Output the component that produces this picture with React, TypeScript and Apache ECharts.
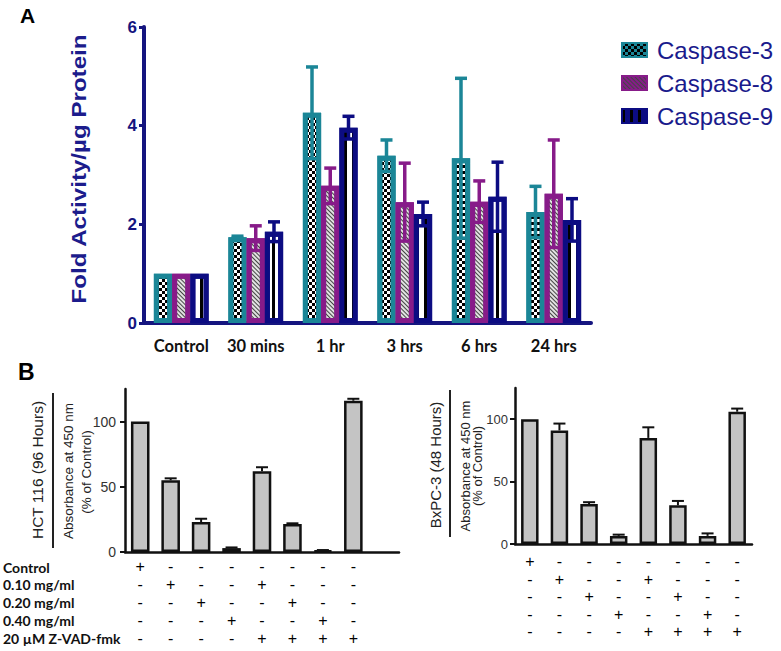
import React, { useEffect, useRef } from 'react';
import * as echarts from 'echarts';

// ---------- Panel A data ----------
const timePoints = ['Control', '30 mins', '1 hr', '3 hrs', '6 hrs', '24 hrs'];
const caspase3 = [1.0, 1.74, 4.26, 3.39, 3.34, 2.25];
const caspase3Err = [0, 0.02, 0.93, 0.32, 1.62, 0.52];
const caspase8 = [1.0, 1.72, 2.78, 2.45, 2.46, 2.62];
const caspase8Err = [0, 0.25, 0.36, 0.79, 0.42, 1.09];
const caspase9 = [1.0, 1.85, 3.96, 2.21, 2.56, 2.09];
const caspase9Err = [0, 0.2, 0.23, 0.24, 0.7, 0.43];
const seriesNamesA = ['Caspase-3', 'Caspase-8', 'Caspase-9'];
const ticksA = [0, 2, 4, 6];

// ---------- Panel B data ----------
const treatmentCols = ['1', '2', '3', '4', '5', '6', '7', '8'];
const hctValues = [100, 55, 23, 3, 62, 21.5, 1, 116];
const hctErr = [0, 1.5, 2.5, 0.5, 3, 0.5, 0.5, 1.5];
const bxpcValues = [100, 91, 32, 6.5, 85, 31, 6.5, 106];
const bxpcErr = [0, 5.5, 1.5, 1, 8.5, 3.5, 2, 2.5];
const ticksB = [0, 50, 100];

const rowLabels = ['Control', '0.10 mg/ml', '0.20 mg/ml', '0.40 mg/ml', '20 µM Z-VAD-fmk'];
const rowControl = ['+', '-', '-', '-', '-', '-', '-', '-'];
const row010 = ['-', '+', '-', '-', '+', '-', '-', '-'];
const row020 = ['-', '-', '+', '-', '-', '+', '-', '-'];
const row040 = ['-', '-', '-', '+', '-', '-', '+', '-'];
const rowZvad = ['-', '-', '-', '-', '+', '+', '+', '+'];
const treatmentRows = [rowControl, row010, row020, row040, rowZvad];

const C3 = '#1b8697';
const C8 = '#871b89';
const C9 = '#0c0c82';
const NAVY = '#15157f';
const ARIAL = '"Liberation Sans", Arial, sans-serif';
const CAL = 'Lato, "Open Sans", sans-serif';

const decalC3 = {
  symbol: 'rect', symbolSize: 1, color: '#000',
  dashArrayX: [[3, 3], [0, 3, 3, 0]], dashArrayY: [3, 0], rotation: 0,
};
const decalC8 = {
  symbol: 'rect', symbolSize: 1, color: '#444',
  dashArrayX: [1, 0], dashArrayY: [1, 2], rotation: Math.PI / 4,
};
const decalC9 = {
  symbol: 'rect', symbolSize: 1, color: '#000',
  dashArrayX: [3, 5], dashArrayY: [1, 0], rotation: 0,
};

function errSeries(name: string, xi: number, yi: number, vals: number[], errs: number[],
  color: string, offset: number, capHalf: number, lw: number, symmetric: boolean) {
  return {
    type: 'custom', name, xAxisIndex: xi, yAxisIndex: yi, z: 10, silent: true,
    encode: { x: 0, y: 1 },
    data: vals.map((v, i) => [i, v, errs[i]]),
    renderItem: (params: any, api: any) => {
      const idx = api.value(0);
      const v = api.value(1);
      const e = api.value(2);
      if (!e) return null;
      const catW = api.size([1, 0])[0];
      const base = api.coord([idx, v]);
      const x = base[0] + catW * offset;
      const top = api.coord([idx, v + e])[1];
      const bot = symmetric ? api.coord([idx, v - e])[1] : base[1];
      const st = { stroke: color, lineWidth: lw, fill: 'none' };
      const children: any[] = [
        { type: 'line', shape: { x1: x, y1: bot, x2: x, y2: top }, style: st },
        { type: 'line', shape: { x1: x - capHalf, y1: top, x2: x + capHalf, y2: top }, style: st },
      ];
      if (symmetric) {
        children.push({ type: 'line', shape: { x1: x - capHalf, y1: bot, x2: x + capHalf, y2: bot }, style: st });
      }
      return { type: 'group', children };
    },
  };
}

function signLabel(i: number) {
  if (i >= treatmentCols.length) return '';
  return treatmentRows.map((r) => r[i]).join('\n');
}

const barBW = (xi: number, yi: number, vals: number[], width: string) => ({
  type: 'bar', xAxisIndex: xi, yAxisIndex: yi, data: vals, barWidth: width,
  itemStyle: { color: '#c4c4c4', borderColor: '#111', borderWidth: 2.5 },
});

const option: any = {
  animation: false,
  backgroundColor: '#fff',
  legend: {
    data: [
      { name: seriesNamesA[0], itemStyle: { color: C3, borderColor: C3 } },
      { name: seriesNamesA[1], itemStyle: { color: C8, borderColor: C8 } },
      { name: seriesNamesA[2], itemStyle: { color: C9, borderColor: C9 } },
    ],
    orient: 'vertical', left: 616, top: 33,
    icon: 'rect', itemWidth: 25, itemHeight: 14, itemGap: 9,
    textStyle: { fontSize: 24, color: '#1a1a8c', fontFamily: ARIAL, padding: [0, 0, 0, 5] },
  },
  grid: [
    { left: 144, right: 190, top: 27, bottom: 328 },
    { left: 125, right: 382, top: 389, bottom: 99 },
    { left: 515, right: 29, top: 388, bottom: 107 },
  ],
  xAxis: [
    {
      type: 'category', gridIndex: 0, data: timePoints,
      axisLine: { lineStyle: { color: NAVY, width: 4 } },
      axisTick: { alignWithLabel: true, length: 6, lineStyle: { color: NAVY, width: 3 } },
      axisLabel: { interval: 0, fontFamily: CAL, fontWeight: 'bold', fontSize: 16.5, color: '#111', margin: 14 },
    },
    {
      type: 'category', gridIndex: 1, data: [...treatmentCols, ''],
      axisLine: { lineStyle: { color: '#111', width: 2.5 } },
      axisTick: { show: false },
      axisLabel: {
        interval: 0, fontFamily: ARIAL, fontSize: 16, color: '#000', lineHeight: 17.8, margin: 6,
        formatter: (_v: string, i: number) => signLabel(i),
      },
    },
    {
      type: 'category', gridIndex: 2, data: treatmentCols,
      axisLine: { lineStyle: { color: '#111', width: 2.5 } },
      axisTick: { show: false },
      axisLabel: {
        interval: 0, fontFamily: ARIAL, fontSize: 16, color: '#000', lineHeight: 17.5, margin: 9,
        formatter: (_v: string, i: number) => signLabel(i),
      },
    },
  ],
  yAxis: [
    {
      type: 'value', gridIndex: 0, min: 0, max: 6, interval: 2,
      axisLine: { show: true, lineStyle: { color: NAVY, width: 4 } },
      axisTick: { show: true, length: 5, lineStyle: { color: NAVY, width: 3 }, customValues: ticksA },
      axisLabel: { fontFamily: ARIAL, fontWeight: 'bold', fontSize: 17, color: NAVY, margin: 7, customValues: ticksA },
      splitLine: { show: false },
    },
    {
      type: 'value', gridIndex: 1, min: 0, max: 125, interval: 50,
      axisLine: { show: true, lineStyle: { color: '#111', width: 2.5 } },
      axisTick: { show: true, length: 5, lineStyle: { color: '#111', width: 2 }, customValues: ticksB },
      axisLabel: { fontFamily: ARIAL, fontSize: 14, color: '#333', margin: 9, customValues: ticksB },
      splitLine: { show: false },
    },
    {
      type: 'value', gridIndex: 2, min: 0, max: 125, interval: 50,
      axisLine: { show: true, lineStyle: { color: '#111', width: 2.5 } },
      axisTick: { show: true, length: 5, lineStyle: { color: '#111', width: 2 }, customValues: ticksB },
      axisLabel: { fontFamily: ARIAL, fontSize: 13, color: '#333', margin: 7, customValues: ticksB },
      splitLine: { show: false },
    },
  ],
  series: [
    {
      type: 'bar', name: seriesNamesA[0], xAxisIndex: 0, yAxisIndex: 0, data: caspase3,
      barWidth: '24.5%', barGap: '0%',
      itemStyle: { color: '#ffffff', borderColor: C3, borderWidth: 5, decal: decalC3 },
    },
    {
      type: 'bar', name: seriesNamesA[1], xAxisIndex: 0, yAxisIndex: 0, data: caspase8,
      barWidth: '24.5%', barGap: '0%',
      itemStyle: { color: '#e2e2e2', borderColor: C8, borderWidth: 5, decal: decalC8 },
    },
    {
      type: 'bar', name: seriesNamesA[2], xAxisIndex: 0, yAxisIndex: 0, data: caspase9,
      barWidth: '24.5%', barGap: '0%',
      itemStyle: { color: '#ffffff', borderColor: C9, borderWidth: 5, decal: decalC9 },
    },
    errSeries('e3', 0, 0, caspase3, caspase3Err, C3, -0.245, 6, 3.5, true),
    errSeries('e8', 0, 0, caspase8, caspase8Err, C8, 0, 6, 3.5, true),
    errSeries('e9', 0, 0, caspase9, caspase9Err, C9, 0.245, 6, 3.5, true),
    barBW(1, 1, hctValues, '61%'),
    errSeries('eh', 1, 1, hctValues, hctErr, '#111', 0, 6, 2, false),
    barBW(2, 2, bxpcValues, '59%'),
    errSeries('eb', 2, 2, bxpcValues, bxpcErr, '#111', 0, 6, 2, false),
  ],
  graphic: [
    { type: 'text', left: 20, top: 5, style: { text: 'A', font: `bold 21px ${ARIAL}`, fill: '#000' } },
    { type: 'text', left: 18, top: 360, style: { text: 'B', font: `bold 23px ${ARIAL}`, fill: '#000' } },
    {
      type: 'text', x: 79, y: 169, rotation: Math.PI / 2, scaleX: 1.15,
      style: { text: 'Fold Activity/µg Protein', font: `bold 21px ${ARIAL}`, fill: '#1c1c8c', align: 'center', verticalAlign: 'middle' },
    },
    // B left axis titles
    {
      type: 'text', x: 37, y: 470, rotation: Math.PI / 2,
      style: { text: 'HCT 116 (96 Hours)', font: `15.5px ${ARIAL}`, fill: '#222', align: 'center', verticalAlign: 'middle' },
    },
    { type: 'line', shape: { x1: 53, y1: 393, x2: 53, y2: 548 }, style: { stroke: '#222', lineWidth: 2 } },
    {
      type: 'text', x: 68.5, y: 471, rotation: Math.PI / 2,
      style: { text: 'Absorbance at 450 nm', font: `13.5px ${ARIAL}`, fill: '#222', align: 'center', verticalAlign: 'middle' },
    },
    {
      type: 'text', x: 86, y: 472, rotation: Math.PI / 2,
      style: { text: '(% of Control)', font: `13.5px ${ARIAL}`, fill: '#222', align: 'center', verticalAlign: 'middle' },
    },
    // B right axis titles
    {
      type: 'text', x: 435, y: 465, rotation: Math.PI / 2,
      style: { text: 'BxPC-3 (48 Hours)', font: `15px ${ARIAL}`, fill: '#222', align: 'center', verticalAlign: 'middle' },
    },
    { type: 'line', shape: { x1: 450, y1: 390, x2: 450, y2: 537 }, style: { stroke: '#222', lineWidth: 2 } },
    {
      type: 'text', x: 465.5, y: 466, rotation: Math.PI / 2,
      style: { text: 'Absorbance at 450 nm', font: `13px ${ARIAL}`, fill: '#222', align: 'center', verticalAlign: 'middle' },
    },
    {
      type: 'text', x: 477.5, y: 466, rotation: Math.PI / 2,
      style: { text: '(% of Control)', font: `13px ${ARIAL}`, fill: '#222', align: 'center', verticalAlign: 'middle' },
    },
    // treatment row labels
    ...rowLabels.map((t, i) => ({
      type: 'text', x: 3, y: 567 + i * 17.8,
      style: { text: t, font: `bold 14px ${CAL}`, fill: '#111', align: 'left', verticalAlign: 'middle' },
    })),
  ],
};

export default function App() {
  const ref = useRef<HTMLDivElement>(null);
  useEffect(() => {
    document.body.style.margin = '0';
    const chart = echarts.init(ref.current!, null, { renderer: 'svg' });
    chart.setOption(option);
    return () => chart.dispose();
  }, []);
  return (
    <div
      ref={ref}
      style={{ position: 'absolute', left: 0, top: 0, width: 781, height: 651, background: '#fff' }}
    />
  );
}
